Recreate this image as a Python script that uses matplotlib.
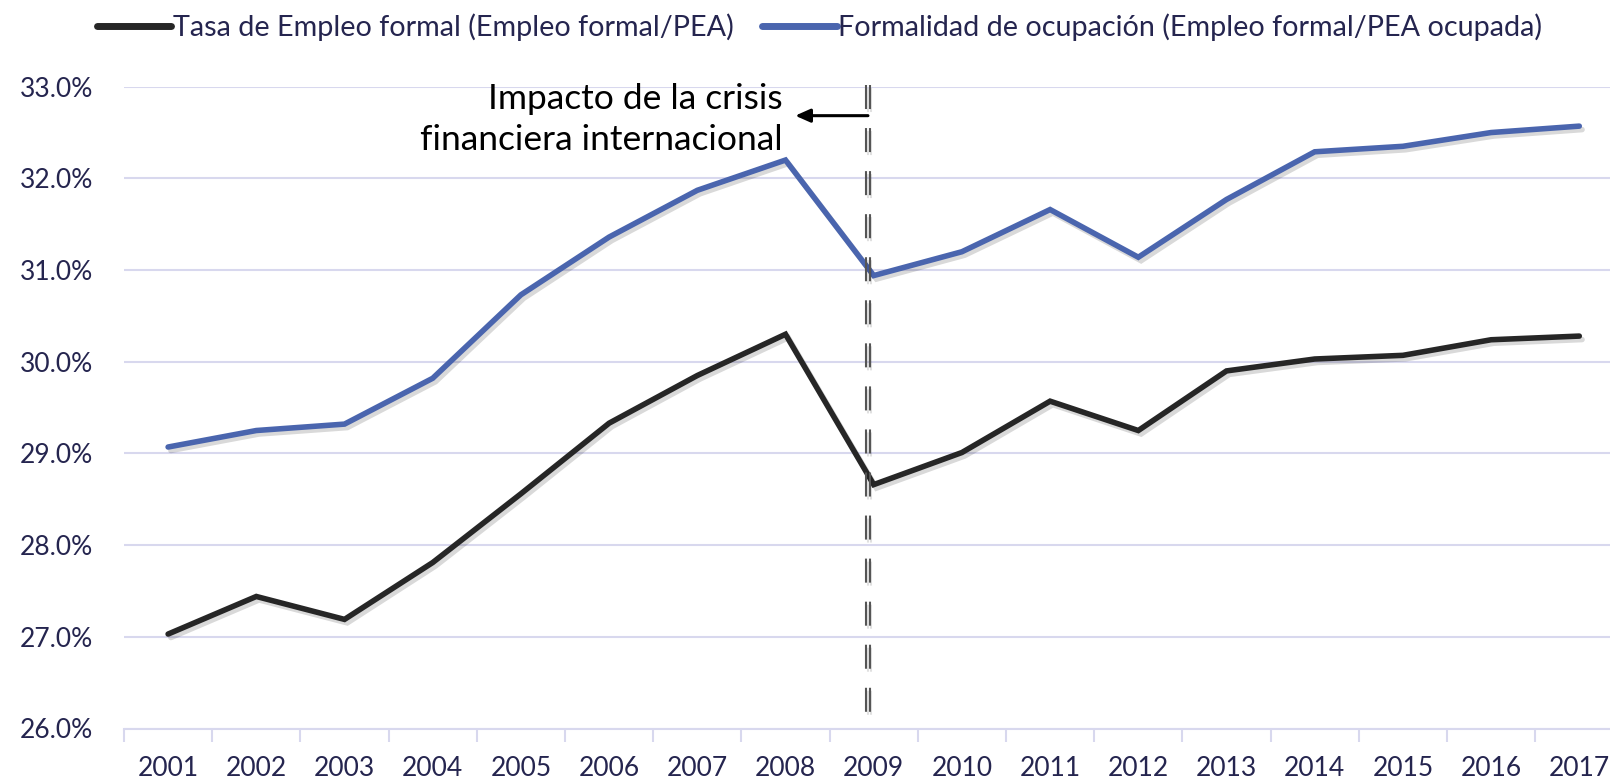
import matplotlib
matplotlib.use("Agg")
import matplotlib.pyplot as plt
import matplotlib.patheffects as pe
from matplotlib.lines import Line2D

plt.rcParams['font.family'] = ['Lato', 'DejaVu Sans']
plt.rcParams['lines.scale_dashes'] = False

years = ['2001', '2002', '2003', '2004', '2005', '2006', '2007', '2008', '2009',
         '2010', '2011', '2012', '2013', '2014', '2015', '2016', '2017']
tasa_empleo = [27.03, 27.44, 27.19, 27.81, 28.56, 29.33, 29.85, 30.30, 28.66,
               29.01, 29.57, 29.25, 29.90, 30.03, 30.07, 30.24, 30.28]
formalidad = [29.07, 29.25, 29.32, 29.82, 30.73, 31.36, 31.87, 32.20, 30.94,
              31.20, 31.66, 31.14, 31.77, 32.29, 32.35, 32.50, 32.57]
y_ticks = [26, 27, 28, 29, 30, 31, 32, 33]
labels = ['Tasa de Empleo formal (Empleo formal/PEA)',
          'Formalidad de ocupación (Empleo formal/PEA ocupada)']
annot_text = 'Impacto de la crisis\nfinanciera internacional'

TXT = '#25254f'
GRID = '#d8d8ee'
BLACK = '#262626'
BLUE = '#4a65ae'

W, H = 1610, 784
fig = plt.figure(figsize=(W / 100, H / 100), dpi=100)
left = 124 / W
width = 17 * 88.2 / W
bottom = (H - 728.5) / H
height = (728.5 - 86.7) / H
ax = fig.add_axes([left, bottom, width, height])

x = list(range(len(years)))
shadow = [pe.SimpleLineShadow(offset=(2, -2.5), shadow_color='#000000', alpha=0.15), pe.Normal()]
ax.plot(x, tasa_empleo, color=BLACK, lw=4.0, solid_capstyle='round',
        solid_joinstyle='miter', path_effects=shadow, zorder=4)
ax.plot(x, formalidad, color=BLUE, lw=4.0, solid_capstyle='round',
        solid_joinstyle='miter', path_effects=shadow, zorder=4)

ax.set_xlim(-0.5, len(years) - 0.5)
ax.set_ylim(26, 33)
ax.set_yticks(y_ticks)
ax.set_yticklabels([f'{v:.1f}%' for v in y_ticks], color=TXT, fontsize=19)
ax.set_xticks(x)
ax.set_xticklabels(years, color=TXT, fontsize=19)
ax.set_xticks([i - 0.5 for i in range(len(years) + 1)], minor=True)
ax.tick_params(axis='x', which='major', length=0, pad=20)
ax.tick_params(axis='x', which='minor', length=9, width=1.5, color=GRID)
ax.tick_params(axis='y', length=0, pad=22)
ax.grid(axis='y', color=GRID, lw=1.5, zorder=0)
for s in ['top', 'right', 'left']:
    ax.spines[s].set_visible(False)
ax.spines['bottom'].set_color(GRID)
ax.spines['bottom'].set_linewidth(1.5)

# crisis line (double dashed)
xc = 7.935
for dx in (-0.019, 0.019):
    ax.plot([xc + dx, xc + dx], [33.02, 26.03], color='#555555', lw=1.5,
            dashes=(17.3, 13.7), clip_on=False, zorder=5,
            path_effects=[pe.SimpleLineShadow(offset=(1, -2), alpha=0.12), pe.Normal()])

ax.annotate('', xy=(7.11, 32.684), xytext=(xc, 32.684),
            arrowprops=dict(arrowstyle='-|>,head_length=0.9,head_width=0.4',
                            color='black', lw=2.2, shrinkA=0, shrinkB=0),
            zorder=6, annotation_clip=False)
ax.text(6.97, 32.64, annot_text, ha='right', va='center', fontsize=25.5,
        color='black', linespacing=1.33, zorder=6)

handles = [Line2D([], [], color=BLACK, lw=5, solid_capstyle='round'),
           Line2D([], [], color=BLUE, lw=5, solid_capstyle='round')]
fig.legend(handles, labels, loc='center', bbox_to_anchor=(0.509, 1 - 27 / H), ncol=2,
           frameon=False, fontsize=20.7, handlelength=2.6, handletextpad=0.05,
           columnspacing=1.0, labelcolor=TXT, borderaxespad=0)

fig.savefig('out.png', dpi=100)
